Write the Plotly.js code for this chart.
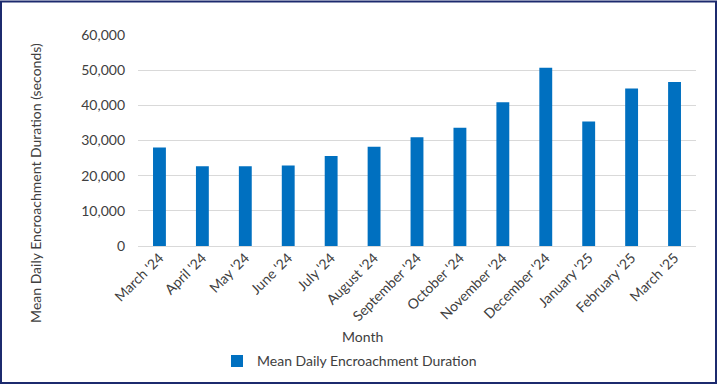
<!DOCTYPE html>
<html>
<head>
<meta charset="utf-8">
<script src="https://cdn.plot.ly/plotly-3.0.1.min.js"></script>
<style>
  html, body { margin: 0; padding: 0; background: #ffffff; }
  #chart { width: 719px; height: 390px; }
</style>
</head>
<body>
<div id="chart"></div>
<script>
const months = ["March '24", "April '24", "May '24", "June '24", "July '24", "August '24",
                "September '24", "October '24", "November '24", "December '24",
                "January '25", "February '25", "March '25"];
const durations = [28000, 22700, 22700, 22900, 25600, 28200, 30900, 33600, 40900, 50700, 35400, 44800, 46600];
const seriesName = "Mean Daily Encroachment Duration";
const yTitle = "Mean Daily Encroachment Duration (seconds)";
const xTitle = "Month";

const W = 719, H = 390;
const M = {l: 138, r: 23, t: 35, b: 141};
const pw = W - M.l - M.r, ph = H - M.t - M.b;
const px = x => (x - M.l) / pw;
const py = y => (H - M.b - y) / ph;

const font = {family: "Lato, 'Liberation Sans', sans-serif", size: 14, color: "#404040"};

const trace = {
  type: "bar",
  x: months,
  y: durations,
  name: seriesName,
  marker: {color: "#0070C0"},
  showlegend: true
};

const layout = {
  width: W, height: H,
  margin: M,
  paper_bgcolor: "#ffffff",
  plot_bgcolor: "#ffffff",
  font: font,
  bargap: 0.7,
  showlegend: true,
  xaxis: {
    type: "category",
    tickangle: -45,
    showgrid: false,
    showline: false,
    zeroline: false,
    ticks: "",
    tickfont: font
  },
  yaxis: {
    range: [0, 60000],
    dtick: 10000,
    tickformat: ",",
    showgrid: true,
    gridcolor: "#d9d9d9",
    gridwidth: 1,
    zeroline: true,
    zerolinecolor: "#d9d9d9",
    zerolinewidth: 1,
    showline: false,
    ticks: "",
    ticklabelstandoff: 12,
    tickfont: font
  },
  legend: {
    orientation: "h",
    x: px(217), xanchor: "left",
    y: py(366), yanchor: "middle",
    font: font,
    bgcolor: "rgba(0,0,0,0)"
  },
  annotations: [
    {text: yTitle, xref: "paper", yref: "paper", x: px(36), y: py(185),
     xanchor: "center", yanchor: "middle", textangle: -90, showarrow: false, font: font},
    {text: xTitle, xref: "paper", yref: "paper", x: px(362), y: py(341),
     xanchor: "center", yanchor: "middle", showarrow: false, font: font}
  ],
  shapes: [
    {type: "rect", xref: "paper", yref: "paper",
     x0: px(1), x1: px(716), y0: py(388), y1: py(1),
     line: {color: "#1c2a6e", width: 2}, fillcolor: "rgba(0,0,0,0)"}
  ]
};

Plotly.newPlot("chart", [trace], layout, {displayModeBar: false, staticPlot: true});
</script>
</body>
</html>
